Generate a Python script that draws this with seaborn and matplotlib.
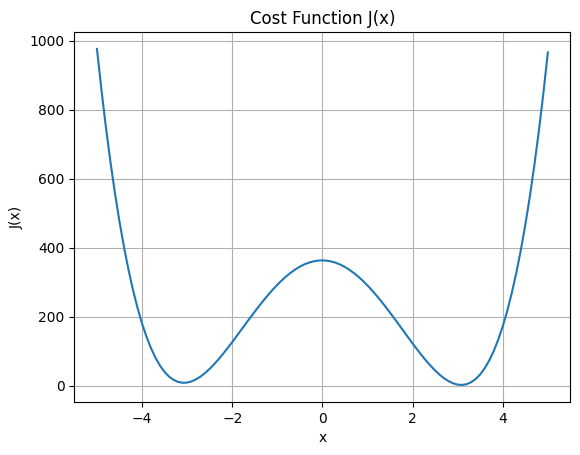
import matplotlib
matplotlib.use("Agg")
import matplotlib.pyplot as plt
import numpy as np
import pandas as pd
import seaborn as sns

# -----------------------------
# Data (x from -5 to 5, every 0.1)
# -----------------------------
x_values = np.round(np.linspace(-5, 5, 101), 1)

cost_values = [
    975.9, 856.7, 747.5, 647.8, 557.2, 475.2, 401.4, 335.5, 276.8, 225.2,
    180.1, 141.2, 108.0, 80.3, 57.6, 39.6, 26.0, 16.5, 10.6, 8.2,
    8.8, 12.3, 18.3, 26.5, 36.8, 48.7, 62.2, 76.9, 92.6, 109.1,
    126.2, 143.8, 161.6, 179.4, 197.0, 214.4, 231.4, 247.8, 263.5, 278.4,
    292.3, 305.2, 317.0, 327.5, 336.8, 344.8, 351.4, 356.5, 360.1, 362.3,
    363.0,
    362.1, 359.7, 355.9, 350.6, 343.8, 335.6, 326.1, 315.4, 303.4, 290.3,
    276.2, 261.1, 245.2, 228.6, 211.4, 193.8, 176.0, 158.0, 140.0, 122.2,
    104.9, 88.2, 72.3, 57.4, 43.7, 31.6, 21.1, 12.7, 6.5, 2.8,
    2.0, 4.2, 9.9, 19.2, 32.6, 50.4, 72.9, 100.4, 133.4, 172.1,
    217.0, 268.4, 326.9, 392.6, 466.2, 548.0, 638.4, 737.9, 846.9, 965.9,
]

df = pd.DataFrame({"x": x_values, "J": cost_values})

# -----------------------------
# Plot
# -----------------------------
fig, ax = plt.subplots(figsize=(6.4, 4.8), dpi=100)
sns.lineplot(x="x", y="J", data=df, ax=ax, color="#1f77b4", linewidth=1.5)

ax.set_title("Cost Function J(x)")
ax.set_xlabel("x")
ax.set_ylabel("J(x)")
ax.grid(True)

plt.savefig("out.png", bbox_inches="tight")
plt.close()
